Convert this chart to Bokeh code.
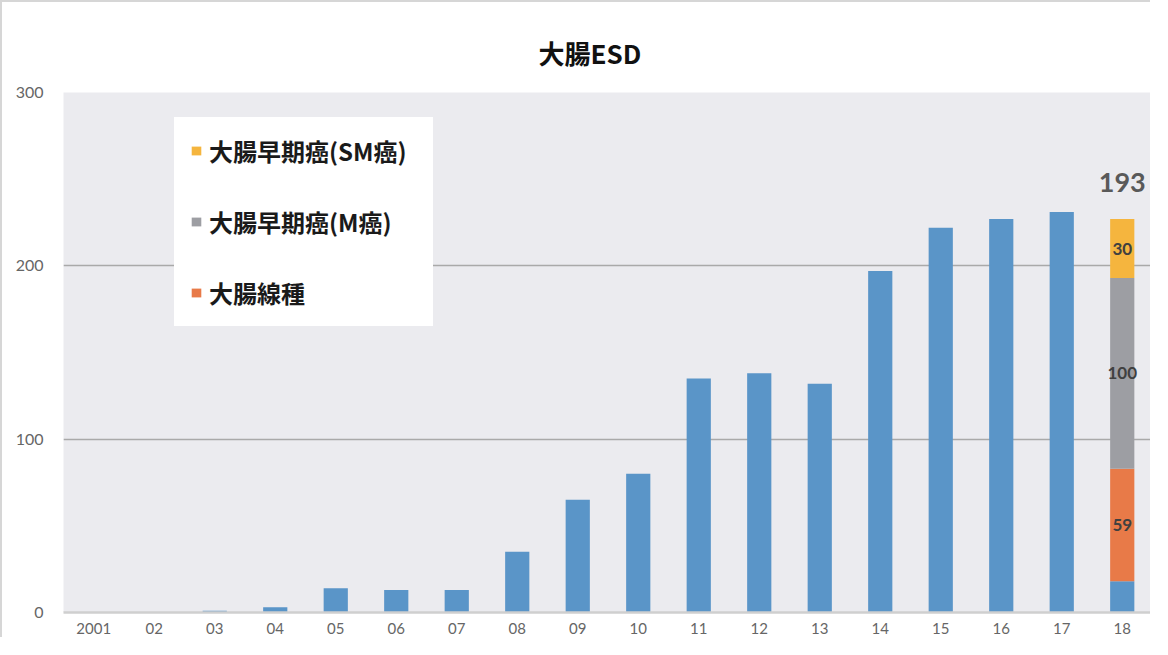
from bokeh.plotting import figure
from bokeh.models import ColumnDataSource, Legend, LegendItem, FixedTicker
from bokeh.core.properties import value
from bokeh.embed import file_html
from bokeh.resources import INLINE

# ---- data ----
years = ["2001", "02", "03", "04", "05", "06", "07", "08", "09", "10",
         "11", "12", "13", "14", "15", "16", "17", "18"]
esd_cases = [0, 0, 1, 3, 14, 13, 13, 35, 65, 80, 135, 138, 132, 197, 222, 227, 231, 18]
adenoma = [0, 0, 0, 0, 0, 0, 0, 0, 0, 0, 0, 0, 0, 0, 0, 0, 0, 65]
m_cancer = [0, 0, 0, 0, 0, 0, 0, 0, 0, 0, 0, 0, 0, 0, 0, 0, 0, 110]
sm_cancer = [0, 0, 0, 0, 0, 0, 0, 0, 0, 0, 0, 0, 0, 0, 0, 0, 0, 34]
series_names = ["大腸線種", "大腸早期癌(M癌)", "大腸早期癌(SM癌)"]
segment_labels = ["59", "100", "30"]
total_label = "193"
y_ticks = [0, 100, 200, 300]

BLUE = "#5A95C8"
ORANGE = "#E87A48"
GRAY = "#9D9EA3"
YELLOW = "#F5B53E"
JP = "Noto Sans CJK JP"

src = ColumnDataSource(dict(year=years, esd=esd_cases, adenoma=adenoma,
                            m=m_cancer, sm=sm_cancer))

p = figure(width=1150, height=637, x_range=years, y_range=(0, 300),
           output_backend="svg", toolbar_location=None,
           min_border_left=61, min_border_right=0, min_border_top=90,
           min_border_bottom=27)
p.background_fill_color = "#EBEBEF"
p.border_fill_color = "white"
p.outline_line_color = None
p.styles = {"border-left": "2px solid #D6D6D6", "border-top": "2px solid #D6D6D6"}

p.title.text = "大腸ESD"
p.title.align = "left"
p.title.offset = 475
p.title.text_font = JP
p.title.text_font_size = "26px"
p.title.text_font_style = "bold"
p.title.text_color = "#111111"
p.title.standoff = 43

renderers = p.vbar_stack(["esd", "adenoma", "m", "sm"], x="year", width=0.4,
                         source=src, color=[BLUE, ORANGE, GRAY, YELLOW],
                         line_color=None)

# segment labels for the last (stacked) year
last = len(years) - 1
b = esd_cases[last]
a = adenoma[last]
m = m_cancer[last]
s = sm_cancer[last]
lab_src = ColumnDataSource(dict(
    x=[years[last]] * 3,
    y=[b + a / 2, b + a + m / 2, b + a + m + s / 2],
    t=segment_labels))
p.text(x="x", y="y", text="t", source=lab_src, text_align="center",
       text_baseline="middle", text_font=value("Lato"),
       text_font_size="17px", text_font_style="bold", text_color="#404040")

tot_src = ColumnDataSource(dict(x=[years[last]], y=[b + a + m + s], t=[total_label]))
p.text(x="x", y="y", text="t", source=tot_src, text_align="center",
       text_baseline="middle", y_offset=-37, text_font=value("Lato"),
       text_font_size="27px", text_font_style="bold", text_color="#595959")

# axes & grid
p.xgrid.grid_line_color = None
p.ygrid.ticker = FixedTicker(ticks=y_ticks)
p.ygrid.grid_line_color = "#A9A9A9"
p.ygrid.grid_line_width = 1.4
p.yaxis.ticker = FixedTicker(ticks=y_ticks)
p.yaxis.axis_line_color = None
p.yaxis.major_tick_line_color = None
p.yaxis.minor_tick_line_color = None
p.yaxis.major_label_text_color = "#666666"
p.yaxis.major_label_text_font = "Lato"
p.yaxis.major_label_text_font_size = "16px"
p.yaxis.major_label_standoff = 14

p.xaxis.axis_line_color = "#CFCFCF"
p.xaxis.axis_line_width = 2.5
p.xaxis.major_tick_line_color = None
p.xaxis.minor_tick_line_color = None
p.xaxis.major_label_text_color = "#666666"
p.xaxis.major_label_text_font = "Lato"
p.xaxis.major_label_text_font_size = "15px"
p.xaxis.major_label_standoff = 4

legend = Legend(items=[
    LegendItem(label=series_names[2], renderers=[renderers[3]]),
    LegendItem(label=series_names[1], renderers=[renderers[2]]),
    LegendItem(label=series_names[0], renderers=[renderers[1]]),
], location=(111, 286))
legend.background_fill_color = "white"
legend.background_fill_alpha = 1.0
legend.border_line_color = "white"
legend.border_line_width = 16
legend.border_line_join = "miter"
legend.label_text_font = JP
legend.label_text_font_size = "24px"
legend.label_text_font_style = "bold"
legend.label_text_color = "#1A1A1A"
legend.glyph_width = 12
legend.glyph_height = 11
legend.label_height = 30
legend.label_width = 208
legend.label_standoff = 7
legend.spacing = 36
legend.padding = 0
legend.margin = 0
p.add_layout(legend)

open("out.html", "w").write(file_html(p, INLINE))
